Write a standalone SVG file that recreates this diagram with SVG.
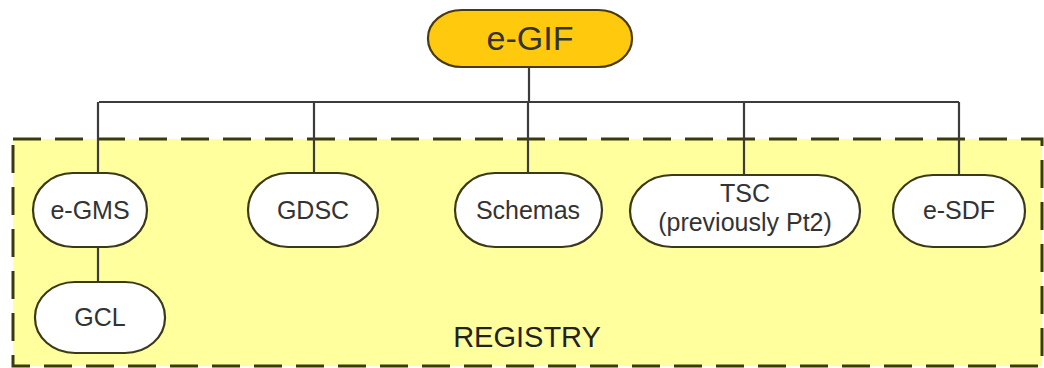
<svg xmlns="http://www.w3.org/2000/svg" width="1044" height="368" viewBox="0 0 1044 368">
<style>
.n{fill:#ffffff;stroke:#3a3a1a;stroke-width:2.2}
.t{font-family:"Liberation Sans",Arial,sans-serif;font-size:25px;fill:#333333;text-anchor:middle}
.c{stroke:#3c3c3c;stroke-width:2.2;fill:none}
</style>
<rect width="1044" height="368" fill="#ffffff"/>
<g id="registry">
<rect x="13" y="139" width="1029" height="227" fill="#ffff9e" stroke="#3a3a10" stroke-width="3" stroke-dasharray="28 14"/>
<text x="527" y="347" style="font-family:'Liberation Sans',Arial,sans-serif;font-size:29px;fill:#222222;text-anchor:middle">REGISTRY</text>
</g>
<g id="connectors">
<path class="c" d="M529 67V102M99 102H959M98 102V173M314 102V173M528 102V173M744 102V175M959 102V175M98 247V282"/>
</g>
<g id="egif">
<rect x="428" y="10" width="204" height="57" rx="34" ry="28" fill="#ffc90e" stroke="#4a3a10" stroke-width="2.2"/>
<text x="530" y="50" style="font-family:'Liberation Sans',Arial,sans-serif;font-size:34px;fill:#333333;text-anchor:middle">e-GIF</text>
</g>
<g id="egms">
<rect class="n" x="33" y="173" width="114" height="74" rx="40" ry="37"/>
<text class="t" x="90" y="219">e-GMS</text>
</g>
<g id="gcl">
<rect class="n" x="35" y="282" width="130" height="71" rx="40" ry="35"/>
<text class="t" x="100" y="326">GCL</text>
</g>
<g id="gdsc">
<rect class="n" x="248" y="173" width="130" height="74" rx="40" ry="37"/>
<text class="t" x="313" y="219">GDSC</text>
</g>
<g id="schemas">
<rect class="n" x="455" y="173" width="147" height="74" rx="40" ry="37"/>
<text class="t" x="528" y="219">Schemas</text>
</g>
<g id="tsc">
<rect class="n" x="630" y="175" width="230" height="72" rx="42" ry="36"/>
<text class="t" x="745" y="202">TSC</text>
<text class="t" x="745" y="231">(previously Pt2)</text>
</g>
<g id="esdf">
<rect class="n" x="893" y="175" width="132" height="72" rx="40" ry="36"/>
<text class="t" x="959" y="219">e-SDF</text>
</g>
</svg>
